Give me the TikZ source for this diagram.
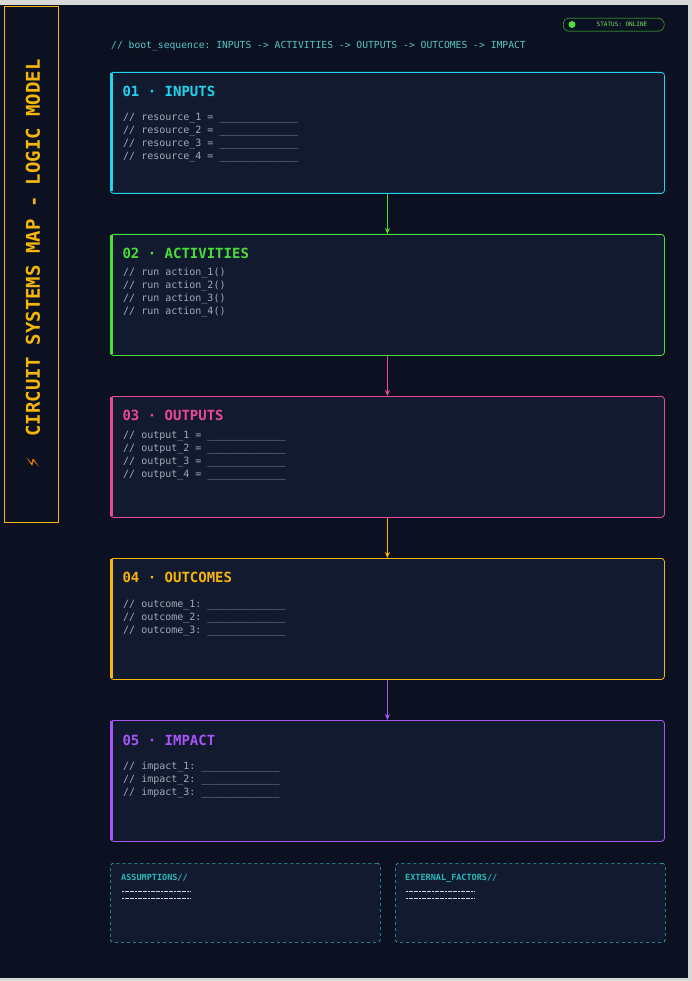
\documentclass[tikz,border=0pt]{standalone}
\usepackage{fontspec}
\setmainfont{DejaVu Sans}
\setmonofont{DejaVu Sans Mono}
\usetikzlibrary{positioning,arrows.meta}
\definecolor{bgdark}{HTML}{0B1120}
\definecolor{boxfill}{HTML}{111A2E}
\definecolor{cyanc}{HTML}{22D3EE}
\definecolor{greenc}{HTML}{4ADE3A}
\definecolor{pinkc}{HTML}{EC4899}
\definecolor{amberc}{HTML}{F5B50A}
\definecolor{purplec}{HTML}{A855F7}
\definecolor{tealc}{HTML}{2DB8B8}
\definecolor{textgrey}{HTML}{A3AAB8}
\begin{document}
\begin{tikzpicture}[
        x=1pt, y=-1pt,
        stage/.style={draw=#1, fill=boxfill, rounded corners=3pt, line width=0.8pt,
            minimum width=554pt, minimum height=121pt, anchor=north west, inner sep=0pt},
        title/.style={text=#1, font=\ttfamily\bfseries\fontsize{14}{16}\selectfont, anchor=west},
        list/.style={text=textgrey, font=\ttfamily\fontsize{10}{13}\selectfont, align=left,
            anchor=north west, inner sep=0pt},
        flow/.style={draw=#1, -{Stealth[length=6pt,width=5pt]}, line width=1pt},
        note/.style={draw=tealc, dashed, fill=boxfill, rounded corners=3pt, line width=0.7pt,
            minimum width=270pt, minimum height=79pt, anchor=north west, inner sep=0pt},
        rule/.style={textgrey!50, dash pattern=on 2pt off 0.6pt, line width=0.3pt},
    ]
    % background
    \fill[white!85!black] (0,0) rectangle (692,981);
    \fill[bgdark] (0,5) rectangle (688,978);
    \useasboundingbox (0,0) rectangle (692,981);

    % side panel
    \node (side) [draw=amberc, line width=1pt, fill=bgdark, minimum width=54pt,
        minimum height=516pt, anchor=north west, inner sep=0pt] at (4,6) {};
    \node (sidetitle) [rotate=90, text=amberc, font=\ttfamily\bfseries\fontsize{19}{19}\selectfont]
        at (33,248) {CIRCUIT SYSTEMS MAP - LOGIC MODEL};
    \node (bolt) [rotate=90, text=orange, font=\fontsize{17}{17}\selectfont] at (33,463) {⚡};

    % status pill
    \node (status) [draw=greenc, rounded corners=6pt, fill=bgdark, minimum width=101pt,
        minimum height=13pt, anchor=north west, inner sep=0pt] at (563,18) {};
    \fill[greenc] (572,24.5) circle (3.5pt);
    \node (statustxt) [text=greenc!80!white, font=\ttfamily\fontsize{6}{7}\selectfont]
        at (622,24.5) {STATUS: ONLINE};

    % header
    \node (boot) [text=tealc!80!white, font=\ttfamily\fontsize{9.7}{10}\selectfont, anchor=west,
        inner sep=0pt] at (111,46) {// boot\_sequence: INPUTS -> ACTIVITIES -> OUTPUTS -> OUTCOMES -> IMPACT};

    % stages
    \node (inputs) [stage=cyanc] at (110,72) {};
    \fill[cyanc] (110,73) rectangle (113,191);
    \node [title=cyanc] at (119,91) {01 · INPUTS};
    \node [list] at (123,113) {// resource\_1 = \_\_\_\_\_\_\_\_\_\_\_\_\_\\// resource\_2 = \_\_\_\_\_\_\_\_\_\_\_\_\_\\// resource\_3 = \_\_\_\_\_\_\_\_\_\_\_\_\_\\// resource\_4 = \_\_\_\_\_\_\_\_\_\_\_\_\_};

    \node (activities) [stage=greenc] at (110,234) {};
    \fill[greenc] (110,235) rectangle (113,354);
    \node [title=greenc] at (119,253) {02 · ACTIVITIES};
    \node [list] at (123,268) {// run action\_1()\\// run action\_2()\\// run action\_3()\\// run action\_4()};

    \node (outputs) [stage=pinkc] at (110,396) {};
    \fill[pinkc] (110,397) rectangle (113,516);
    \node [title=pinkc] at (119,415) {03 · OUTPUTS};
    \node [list] at (123,431) {// output\_1 = \_\_\_\_\_\_\_\_\_\_\_\_\_\\// output\_2 = \_\_\_\_\_\_\_\_\_\_\_\_\_\\// output\_3 = \_\_\_\_\_\_\_\_\_\_\_\_\_\\// output\_4 = \_\_\_\_\_\_\_\_\_\_\_\_\_};

    \node (outcomes) [stage=amberc] at (110,558) {};
    \fill[amberc] (110,559) rectangle (113,678);
    \node [title=amberc] at (119,577) {04 · OUTCOMES};
    \node [list] at (123,600) {// outcome\_1: \_\_\_\_\_\_\_\_\_\_\_\_\_\\// outcome\_2: \_\_\_\_\_\_\_\_\_\_\_\_\_\\// outcome\_3: \_\_\_\_\_\_\_\_\_\_\_\_\_};

    \node (impact) [stage=purplec] at (110,720) {};
    \fill[purplec] (110,721) rectangle (113,840);
    \node [title=purplec] at (119,740) {05 · IMPACT};
    \node [list] at (123,762) {// impact\_1: \_\_\_\_\_\_\_\_\_\_\_\_\_\\// impact\_2: \_\_\_\_\_\_\_\_\_\_\_\_\_\\// impact\_3: \_\_\_\_\_\_\_\_\_\_\_\_\_};

    % connectors
    \draw[flow=greenc] (inputs.south) -- (activities.north);
    \draw[flow=pinkc] (activities.south) -- (outputs.north);
    \draw[flow=amberc] (outputs.south) -- (outcomes.north);
    \draw[flow=purplec] (outcomes.south) -- (impact.north);

    % notes
    \node (assume) [note] at (110,863) {};
    \node [text=tealc, font=\ttfamily\bfseries\fontsize{8.5}{10}\selectfont, anchor=west,
        inner sep=0pt] at (121,878) {ASSUMPTIONS//};
    \draw[rule] (122,891) -- (191,891) (122,898) -- (191,898);
    \node (external) [note] at (395,863) {};
    \node [text=tealc, font=\ttfamily\bfseries\fontsize{8.5}{10}\selectfont, anchor=west,
        inner sep=0pt] at (405,878) {EXTERNAL\_FACTORS//};
    \draw[rule] (406,891) -- (474,891) (406,898) -- (474,898);
\end{tikzpicture}
\end{document}
